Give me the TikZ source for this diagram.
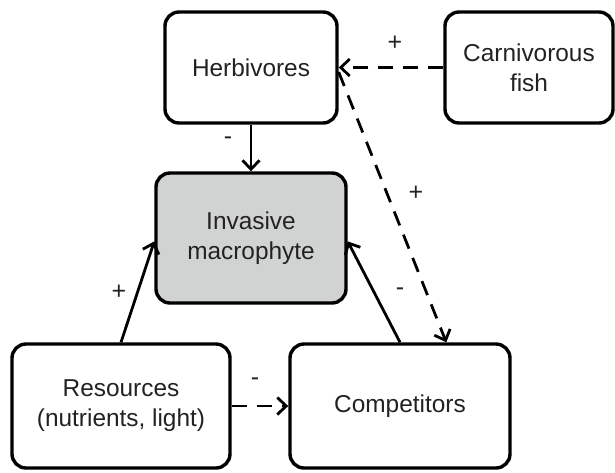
\documentclass[tikz,border=0pt]{standalone}
\usepackage{fontspec}
\setmainfont{Liberation Sans}
\usetikzlibrary{arrows.meta}
\definecolor{macgray}{RGB}{209,211,211}
\definecolor{txt}{RGB}{34,34,34}
\tikzset{box/.style={draw,line width=1.7pt,rounded corners=7pt,align=center,inner sep=0pt,text=txt,font=\fontsize{12.2}{15}\selectfont},
  gbox/.style={box,fill=macgray},
  lbl/.style={inner sep=0pt,text=txt,font=\fontsize{12.5}{14}\selectfont},
  arr/.style={line width=1.4pt,-{Straight Barb[length=4.5pt,width=8.5pt,line width=1.4pt]}},
  darr/.style={arr,dash pattern=on 7.5pt off 5pt}}

\begin{document}
\begin{tikzpicture}[x=0.5pt,y=-0.5pt]
  \useasboundingbox (0,0) rectangle (615,472);
  \node[box,minimum width=86pt,minimum height=55.5pt] (herb) at (251,67.5) {Herbivores};
  \node[box,minimum width=84pt,minimum height=55.5pt] (fish) at (529,67.5) {Carnivorous\\fish};
  \node[gbox,minimum width=95pt,minimum height=65pt] (mac) at (251,238) {Invasive\\macrophyte};
  \node[box,minimum width=109pt,minimum height=62pt] (res) at (121,406) {Resources\\(nutrients, light)};
  \node[box,minimum width=110pt,minimum height=62pt] (comp) at (400,406) {Competitors};
  \draw[arr] (herb.south) -- (mac.north);
  \draw[darr] (fish.west) -- (herb.east);
  \draw[darr] (herb.-3) -- (comp.54);
  \draw[arr] (res.north) -- (mac.182);
  \draw[arr] (comp.north) -- (mac.-2);
  \draw[darr] (res.east) -- (comp.west);
  % signs
  \node[lbl] (l1) at (228,141) {-};
  \node[lbl] (l2) at (395,43) {+};
  \node[lbl] (l3) at (416,193) {+};
  \node[lbl] (l4) at (119,292) {+};
  \node[lbl] (l5) at (400,292) {-};
  \node[lbl] (l6) at (255,382) {-};
\end{tikzpicture}
\end{document}
